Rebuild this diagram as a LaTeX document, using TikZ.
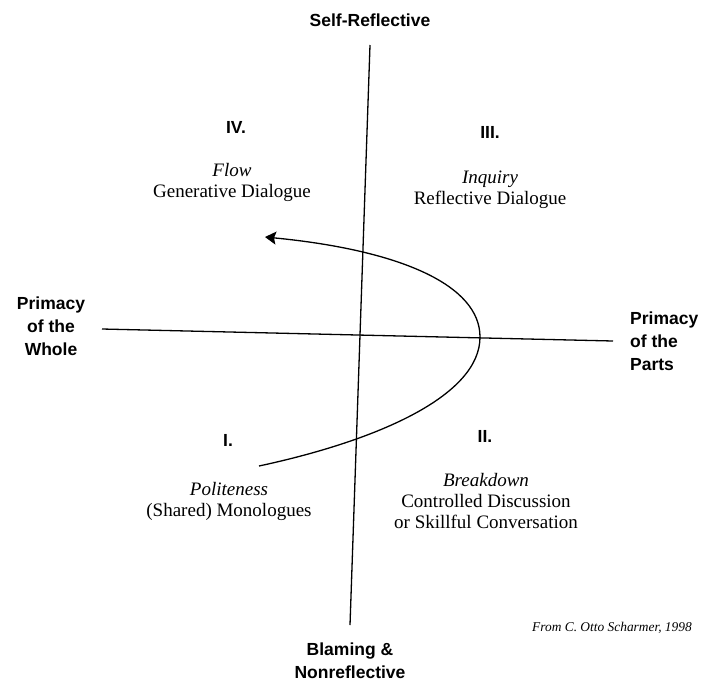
\documentclass[tikz,border=0pt]{standalone}
\usepackage{fontspec}
\setmainfont{Liberation Serif}
\newfontfamily\axisfont{Liberation Sans}
\usetikzlibrary{positioning,arrows.meta}

\tikzstyle{axislabel} = [
    font=\axisfont\bfseries\fontsize{17.5}{23}\selectfont,
    inner sep=0pt
]

\begin{document}
\begin{tikzpicture}[x=1pt, y=-1pt,
        axis/.style={line width=1.3pt},
        quadnum/.style={
            font=\axisfont\bfseries\fontsize{17.5}{20}\selectfont,
            inner sep=0pt
        },
        quadtext/.style={
            font=\fontsize{19}{21}\selectfont,
            align=center, inner sep=0pt
        },
        credit/.style={font=\itshape\fontsize{13.4}{15}\selectfont, inner sep=0pt}
    ]
        \useasboundingbox (0,0) rectangle (704,681);

        % axes
        \coordinate (top) at (370,45);
        \coordinate (bottom) at (350,625);
        \coordinate (left) at (102,329);
        \coordinate (right) at (613,341);
        \draw[axis] (top) -- (bottom);
        \draw[axis] (left) -- (right);

        \node[axislabel] (selfrefl) at (370,20) {Self-Reflective};
        \node[axislabel, align=center] (blaming) at (350,661) {Blaming \&\\Nonreflective};
        \node[axislabel, align=center] (whole) at (51,326) {Primacy\\of the\\Whole};
        \node[axislabel, align=left, anchor=west] (parts) at (630,341) {Primacy\\of the\\Parts};

        % quadrants
        \node[quadnum] (q4) at (236,127) {IV.};
        \node[quadtext] (q4txt) at (232,182) {\textit{Flow}\\Generative Dialogue};
        \node[quadnum] (q3) at (490,132) {III.};
        \node[quadtext] (q3txt) at (490,190) {\textit{Inquiry}\\Reflective Dialogue};
        \node[quadnum] (q1) at (228,440) {I.};
        \node[quadtext] (q1txt) at (229,501) {\textit{Politeness}\\(Shared) Monologues};
        \node[quadnum] (q2) at (485,436) {II.};
        \node[quadtext] (q2txt) at (486,501) {\textit{Breakdown}\\Controlled Discussion\\or Skillful Conversation};

        % the movement through the quadrants
        \coordinate (start) at (259,466);
        \coordinate (turn) at (480,337);
        \coordinate (tip) at (265,237);
        \draw[axis, -{Stealth[length=11pt, width=13pt, inset=2pt]}]
            (start) .. controls (380,440) and (480,395) .. (turn)
                    .. controls (480,285) and (400,250) .. (tip);

        \node[credit] (source) at (612,628) {From C. Otto Scharmer, 1998};
\end{tikzpicture}
\end{document}
